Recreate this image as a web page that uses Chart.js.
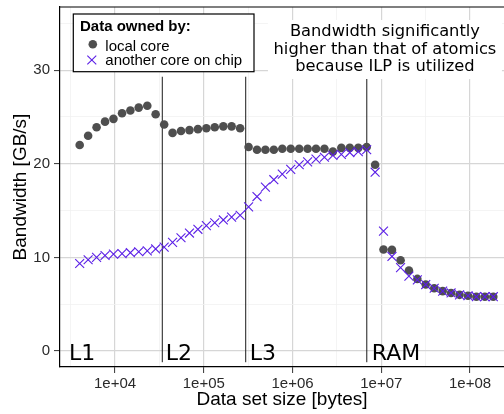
<!DOCTYPE html>
<html>
<head>
<meta charset="utf-8">
<script src="https://cdn.jsdelivr.net/npm/chart.js@4/dist/chart.umd.min.js"></script>
<style>
  html, body { margin: 0; padding: 0; background: #fff; }
  canvas { display: block; }
</style>
</head>
<body>
<canvas id="bwChart" width="504" height="414"></canvas>
<script>
// Data set sizes [bytes]
const sizes = [4000, 4980, 6200, 7720, 9610, 12000, 14900, 18500, 23100, 28700,
  35800, 44500, 55400, 69000, 85900, 107000, 133000, 166000, 206000, 257000,
  320000, 398000, 495000, 616000, 767000, 955000, 1190000, 1480000, 1840000, 2290000,
  2850000, 3550000, 4420000, 5510000, 6850000, 8530000, 10600000, 13200000, 16500000, 20500000,
  25500000, 31700000, 39500000, 49200000, 61200000, 76200000, 94900000, 118000000, 147000000, 183000000];

// Bandwidth [GB/s] when the data is owned by the local core
const localCore = [22.0, 23.0, 23.9, 24.5, 24.8, 25.4, 25.7, 26.0, 26.2, 25.3,
  24.2, 23.3, 23.5, 23.6, 23.7, 23.8, 23.9, 24.0, 24.0, 23.8,
  21.8, 21.5, 21.5, 21.5, 21.6, 21.6, 21.6, 21.6, 21.6, 21.6,
  21.3, 21.7, 21.7, 21.7, 21.8, 19.9, 10.85, 10.8, 9.7, 8.6,
  7.7, 7.1, 6.7, 6.4, 6.2, 6.0, 5.9, 5.8, 5.8, 5.8];

// Bandwidth [GB/s] when the data is owned by another core on the chip
const otherCore = [9.35, 9.75, 10.0, 10.2, 10.35, 10.4, 10.5, 10.6, 10.7, 10.9,
  11.1, 11.6, 12.1, 12.6, 13.0, 13.4, 13.7, 14.0, 14.3, 14.5,
  15.4, 16.5, 17.5, 18.3, 18.9, 19.4, 19.9, 20.2, 20.5, 20.7,
  20.9, 21.0, 21.2, 21.3, 21.5, 19.1, 12.8, 10.1, 8.9, 8.0,
  7.6, 7.1, 6.7, 6.4, 6.2, 6.0, 5.9, 5.8, 5.8, 5.8];

const xTickValues = [1e4, 1e5, 1e6, 1e7, 1e8];
const xTickLabels = ['1e+04', '1e+05', '1e+06', '1e+07', '1e+08'];
const yTickValues = [0, 10, 20, 30];

// cache level boundaries and level names along the bottom
const cacheBounds = [34100, 297000, 6870000];
const levelNames = ['L1', 'L2', 'L3', 'RAM'];
const levelX = [3030, 37300, 330000, 7830000];

const noteLines = ['Bandwidth significantly', 'higher than that of atomics', 'because ILP is utilized'];
const legendTitle = 'Data owned by:';
const legendLabels = ['local core', 'another core on chip'];

const GRAY = '#4f4f4f';
const PURPLE = '#5b1fe6';
const SANS = '"Liberation Sans", Arial, sans-serif';
const DEJAVU = '"DejaVu Sans", sans-serif';

// minor grid between decades / between major y ticks
const xGrid = [];
xTickValues.forEach(v => { xGrid.push(v / Math.sqrt(10), v); });
const yGrid = [];
yTickValues.forEach(v => { yGrid.push(v, v + 5); });

const decorations = {
  id: 'decorations',
  beforeDatasetsDraw(chart) {
    const {ctx, scales: {x, y}} = chart;
    ctx.save();
    ctx.strokeStyle = '#1a1a1a';
    ctx.lineWidth = 1;
    cacheBounds.forEach(b => {
      const px = x.getPixelForValue(b);
      ctx.beginPath();
      ctx.moveTo(px, y.getPixelForValue(29.3));
      ctx.lineTo(px, y.getPixelForValue(-1.2));
      ctx.stroke();
    });
    ctx.restore();
  },
  afterDatasetsDraw(chart) {
    const {ctx, chartArea, scales: {x, y}} = chart;
    ctx.save();

    // top border of the panel
    ctx.strokeStyle = '#000';
    ctx.lineWidth = 1.2;
    ctx.beginPath();
    ctx.moveTo(chartArea.left, chartArea.top);
    ctx.lineTo(chartArea.right, chartArea.top);
    ctx.stroke();

    // level names
    ctx.fillStyle = '#000';
    ctx.font = '22px ' + DEJAVU;
    ctx.textAlign = 'left';
    ctx.textBaseline = 'alphabetic';
    levelNames.forEach((name, i) => {
      ctx.fillText(name, x.getPixelForValue(levelX[i]), y.getPixelForValue(-0.95));
    });

    // note on the L3 plateau
    const noteX = x.getPixelForValue(1.1e7);
    ctx.fillStyle = '#fff';
    ctx.fillRect(noteX - 117, chartArea.top + 13, 234, 59);
    ctx.fillStyle = '#000';
    ctx.font = '16.3px ' + DEJAVU;
    ctx.textAlign = 'center';
    noteLines.forEach((line, i) => {
      ctx.fillText(line, noteX, chartArea.top + 29 + i * 17.5);
    });

    // legend
    const lx = chartArea.left + 13.3, ly = chartArea.top + 7;
    ctx.fillStyle = '#fff';
    ctx.fillRect(lx, ly, 180.7, 57.7);
    ctx.strokeStyle = '#000';
    ctx.lineWidth = 1.2;
    ctx.strokeRect(lx, ly, 180.7, 57.7);
    ctx.fillStyle = '#000';
    ctx.textAlign = 'left';
    ctx.font = 'bold 15px ' + SANS;
    ctx.fillText(legendTitle, lx + 6.7, ly + 16.5);
    ctx.font = '15px ' + SANS;
    ctx.fillText(legendLabels[0], lx + 32, ly + 36.5);
    ctx.fillText(legendLabels[1], lx + 32, ly + 51);
    ctx.fillStyle = GRAY;
    Chart.helpers.drawPoint(ctx, {pointStyle: 'circle', radius: 4.3, borderWidth: 0}, lx + 19.5, ly + 30.3);
    ctx.strokeStyle = PURPLE;
    ctx.lineWidth = 1.1;
    Chart.helpers.drawPoint(ctx, {pointStyle: 'crossRot', radius: 6.3, borderWidth: 1.1}, lx + 18.5, ly + 46);

    ctx.restore();
  }
};

const isMajorX = v => xTickValues.indexOf(v) >= 0;
const isMajorY = v => v % 10 === 0;

new Chart(document.getElementById('bwChart'), {
  type: 'scatter',
  data: {
    datasets: [{
      label: legendLabels[1],
      data: sizes.map((s, i) => ({x: s, y: otherCore[i]})),
      pointStyle: 'crossRot',
      pointRadius: 6.3,
      borderColor: PURPLE,
      backgroundColor: PURPLE,
      borderWidth: 1.1,
      order: 0
    }, {
      label: legendLabels[0],
      data: sizes.map((s, i) => ({x: s, y: localCore[i]})),
      pointStyle: 'circle',
      pointRadius: 4.3,
      backgroundColor: GRAY,
      borderWidth: 0,
      order: 1
    }]
  },
  options: {
    responsive: false,
    animation: false,
    layout: {autoPadding: false, padding: {top: 7, right: 0, left: 0, bottom: 0}},
    plugins: {legend: {display: false}, tooltip: {enabled: false}},
    scales: {
      x: {
        type: 'logarithmic',
        bounds: 'data',
        min: 2400,
        max: 2.415e8,
        afterBuildTicks: scale => { scale.ticks = xGrid.map(v => ({value: v})); },
        afterFit: scale => {
          scale.height = 47;
          scale.paddingLeft = 0;
          scale.paddingRight = 0;
        },
        grid: {
          color: c => c.tick && isMajorX(c.tick.value) ? '#d6d6d6' : '#f1f1f1',
          lineWidth: c => c.tick && isMajorX(c.tick.value) ? 1.2 : 0.8,
          tickColor: c => c.tick && isMajorX(c.tick.value) ? '#333' : 'rgba(0,0,0,0)',
          tickLength: 6,
          tickWidth: 1
        },
        border: {display: true, color: '#000', width: 1.2},
        ticks: {
          autoSkip: false,
          maxRotation: 0,
          padding: 1.5,
          color: '#2a2a2a',
          font: {family: SANS, size: 15},
          callback: v => { const i = xTickValues.indexOf(v); return i >= 0 ? xTickLabels[i] : ''; }
        },
        title: {
          display: true,
          text: 'Data set size [bytes]',
          color: '#000',
          font: {family: SANS, size: 19},
          padding: {top: 0, bottom: 3}
        }
      },
      y: {
        min: -1.71,
        max: 36.75,
        afterBuildTicks: scale => { scale.ticks = yGrid.map(v => ({value: v})); },
        afterFit: scale => {
          scale.width = 60;
          scale.paddingTop = 0;
          scale.paddingBottom = 0;
        },
        grid: {
          color: c => c.tick && isMajorY(c.tick.value) ? '#d6d6d6' : '#f1f1f1',
          lineWidth: c => c.tick && isMajorY(c.tick.value) ? 1.2 : 0.8,
          tickColor: c => c.tick && isMajorY(c.tick.value) ? '#333' : 'rgba(0,0,0,0)',
          tickLength: 6,
          tickWidth: 1
        },
        border: {display: true, color: '#000', width: 1.2},
        ticks: {
          autoSkip: false,
          padding: 4,
          color: '#2a2a2a',
          font: {family: SANS, size: 15},
          callback: v => isMajorY(v) ? String(v) : ''
        },
        title: {
          display: true,
          text: 'Bandwidth [GB/s]',
          color: '#000',
          font: {family: SANS, size: 19},
          padding: {top: 9.6, bottom: 0}
        }
      }
    }
  },
  plugins: [decorations]
});
</script>
</body>
</html>
